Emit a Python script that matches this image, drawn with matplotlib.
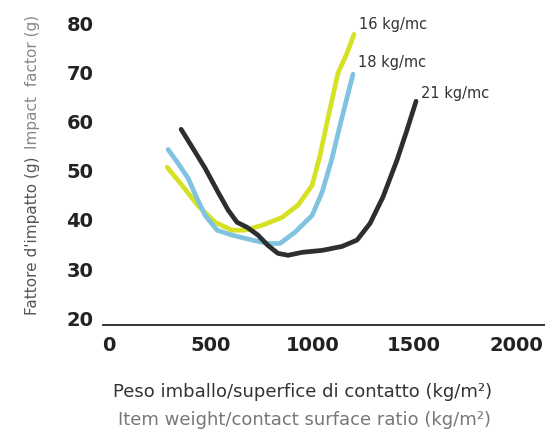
import matplotlib
matplotlib.use("Agg")
import matplotlib.pyplot as plt

# curve data (x: kg/m2, y: g)
x16 = [285, 359, 437, 521, 604, 668, 752, 850, 929, 998, 1037, 1076, 1125, 1170, 1204]
y16 = [50.7, 47.0, 42.9, 39.5, 37.9, 37.9, 38.9, 40.5, 43.0, 47.0, 53.1, 60.7, 69.8, 73.9, 77.7]

x18 = [290, 339, 388, 432, 472, 531, 604, 703, 781, 840, 914, 998, 1047, 1096, 1135, 1199]
y18 = [54.3, 51.5, 48.5, 44.4, 40.9, 37.9, 36.9, 35.9, 35.2, 35.2, 37.5, 40.9, 45.6, 52.5, 59.2, 69.6]

x21 = [354, 408, 472, 536, 585, 629, 678, 732, 781, 830, 880, 948, 1047, 1145, 1219,
       1283, 1346, 1415, 1464, 1509]
y21 = [58.4, 54.8, 50.5, 45.6, 42.0, 39.5, 38.5, 36.9, 34.8, 33.2, 32.8, 33.4, 33.8, 34.6, 35.9,
       39.3, 44.6, 52.1, 58.2, 64.1]

labels = ["16 kg/mc", "18 kg/mc", "21 kg/mc"]
xticks = [0, 500, 1000, 1500, 2000]
yticks = [20, 30, 40, 50, 60, 70, 80]

plt.rcParams["font.family"] = ["DejaVu Sans"]

fig = plt.figure(figsize=(5.45, 4.33), dpi=100)
ax = fig.add_axes([0.189, 0.249, 0.811, 0.716])

lw = 3.4
style = dict(lw=lw, solid_capstyle="round", solid_joinstyle="round")
ax.plot(x16, y16, color="#d6e124", **style)
ax.plot(x18, y18, color="#80c3e0", **style)
ax.plot(x21, y21, color="#2c2e30", **style)

ax.text(x16[-1] + 25, y16[-1] + 2.1, labels[0], fontsize=10.5, color="#333333", va="center")
ax.text(x18[-1] + 25, y18[-1] + 2.4, labels[1], fontsize=10.5, color="#333333", va="center")
ax.text(x21[-1] + 22, y21[-1] + 1.6, labels[2], fontsize=10.5, color="#333333", va="center")

ax.set_xlim(-30, 2143)
ax.set_ylim(18.6, 81.6)
ax.set_xticks(xticks)
ax.set_yticks(yticks)
ax.tick_params(length=0)
ax.tick_params(axis="y", pad=7, labelsize=14, labelcolor="#222222")
ax.tick_params(axis="x", pad=8, labelsize=14, labelcolor="#222222")
for t in ax.get_xticklabels() + ax.get_yticklabels():
    t.set_fontweight("bold")

for s in ["top", "right", "left"]:
    ax.spines[s].set_visible(False)
ax.spines["bottom"].set_linewidth(1.3)
ax.spines["bottom"].set_color("#222222")

# axis titles (two languages)
fig.text(303 / 545, 1 - 392 / 433, "Peso imballo/superfice di contatto (kg/m²)",
         ha="center", va="center", fontsize=13, color="#333333")
fig.text(305 / 545, 1 - 420 / 433, "Item weight/contact surface ratio (kg/m²)",
         ha="center", va="center", fontsize=13, color="#777777")
fig.text(33 / 545, 1 - 236 / 433, "Fattore d'impatto (g)",
         ha="center", va="center", rotation=90, fontsize=11, color="#555555")
fig.text(33 / 545, 1 - 82 / 433, "Impact  factor (g)",
         ha="center", va="center", rotation=90, fontsize=11, color="#888888")

fig.savefig("out.png", dpi=100)
